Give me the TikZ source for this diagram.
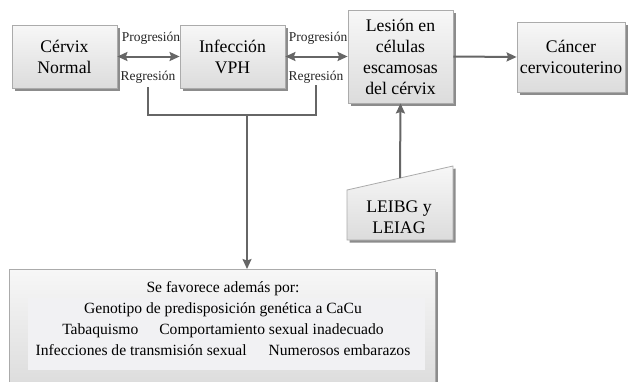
\documentclass[tikz,border=0pt]{standalone}
\usepackage{fontspec}
\setmainfont{Liberation Serif}
\usetikzlibrary{arrows.meta,shadows}
\definecolor{boxline}{HTML}{ABABAB}
\definecolor{conn}{HTML}{666666}
\definecolor{boxtop}{HTML}{F7F7F7}
\definecolor{boxbot}{HTML}{DCDCDC}
\definecolor{innerfill}{HTML}{F1F1F3}
\tikzset{
  procbox/.style={draw=boxline, line width=0.8pt, top color=boxtop, bottom color=boxbot,
    align=center, inner sep=0pt, font=\rmfamily\fontsize{17.7}{21}\selectfont,
    drop shadow={shadow xshift=2.5pt, shadow yshift=-2.5pt, fill=black!45, opacity=1}},
  lbl/.style={inner sep=0pt, font=\rmfamily\fontsize{13.5}{15}\selectfont, text=black!85},
  conn/.style={draw=conn, line width=2pt},
  tip/.style={-{Stealth[length=10pt,width=9pt,inset=1.5pt]}},
  dtip/.style={{Stealth[length=10pt,width=9pt,inset=1.5pt]}-{Stealth[length=10pt,width=9pt,inset=1.5pt]}},
}
\begin{document}
\begin{tikzpicture}[x=1pt,y=-1pt]
\useasboundingbox (0,0) rectangle (629,381);
\clip (0,0) rectangle (629,381);
\fill[white] (0,0) rectangle (629,381);

% main boxes
\node[procbox, minimum width=105pt, minimum height=63pt] (cerv) at (64.5,56.5) {Cérvix\\Normal};
\node[procbox, minimum width=105pt, minimum height=63pt] (vph) at (232.5,56.5) {Infección\\VPH};
\node[procbox, minimum width=105pt, minimum height=93pt] (les) at (400.5,56.5) {Lesión en\\células\\escamosas\\del cérvix};
\node[procbox, minimum width=108pt, minimum height=70pt] (canc) at (571,57) {Cáncer\\cervicouterino};

% LEIBG manual-input shape
\fill[black!45] (349.5,192.5) -- (455.5,168.5) -- (455.5,242.5) -- (349.5,242.5) -- cycle;
\path[draw=boxline, line width=0.8pt, top color=boxtop, bottom color=boxbot]
  (347,190) -- (453,166) -- (453,240) -- (347,240) -- cycle;
\node[inner sep=0pt, align=center, font=\rmfamily\fontsize{17.7}{21}\selectfont] (leib) at (399,217) {LEIBG y\\LEIAG};
\coordinate (leibtop) at (400,178);

% bottom box
\node[procbox, minimum width=426pt, minimum height=118pt, anchor=north west] (fav) at (9,269) {};
\fill[innerfill] (28,298) rectangle (425,370);
\node[inner sep=0pt, align=center, font=\rmfamily\fontsize{15.6}{21}\selectfont] (favtxt) at (223,318.5)
  {Se favorece además por:\\
   Genotipo de predisposición genética a CaCu\\
   Tabaquismo\hspace{21pt}Comportamiento sexual inadecuado\\
   Infecciones de transmisión sexual\hspace{22pt}Numerosos embarazos};

% labels
\node[lbl] (prog1) at (151,38) {Progresión};
\node[lbl] (reg1) at (148,77) {Regresión};
\node[lbl] (prog2) at (318,38) {Progresión};
\node[lbl] (reg2) at (316,77) {Regresión};

% connectors
\draw[conn, dtip] (cerv.east) -- (vph.west);
\draw[conn, dtip] (vph.east) -- (les.west);
\draw[conn, tip] (les.east) -- (canc.west);
\draw[conn, tip] (leibtop) -- (les.south);
\coordinate (b1) at ([yshift=-4pt]reg1.south);
\coordinate (b2) at ([yshift=-2pt]reg2.south);
\coordinate (bmid) at (247,115);
\draw[conn, line width=1.6pt] (b1) |- (bmid) -| (b2);
\draw[conn, line width=1.6pt, tip] (bmid) -- (fav.north -| bmid);
\end{tikzpicture}
\end{document}
